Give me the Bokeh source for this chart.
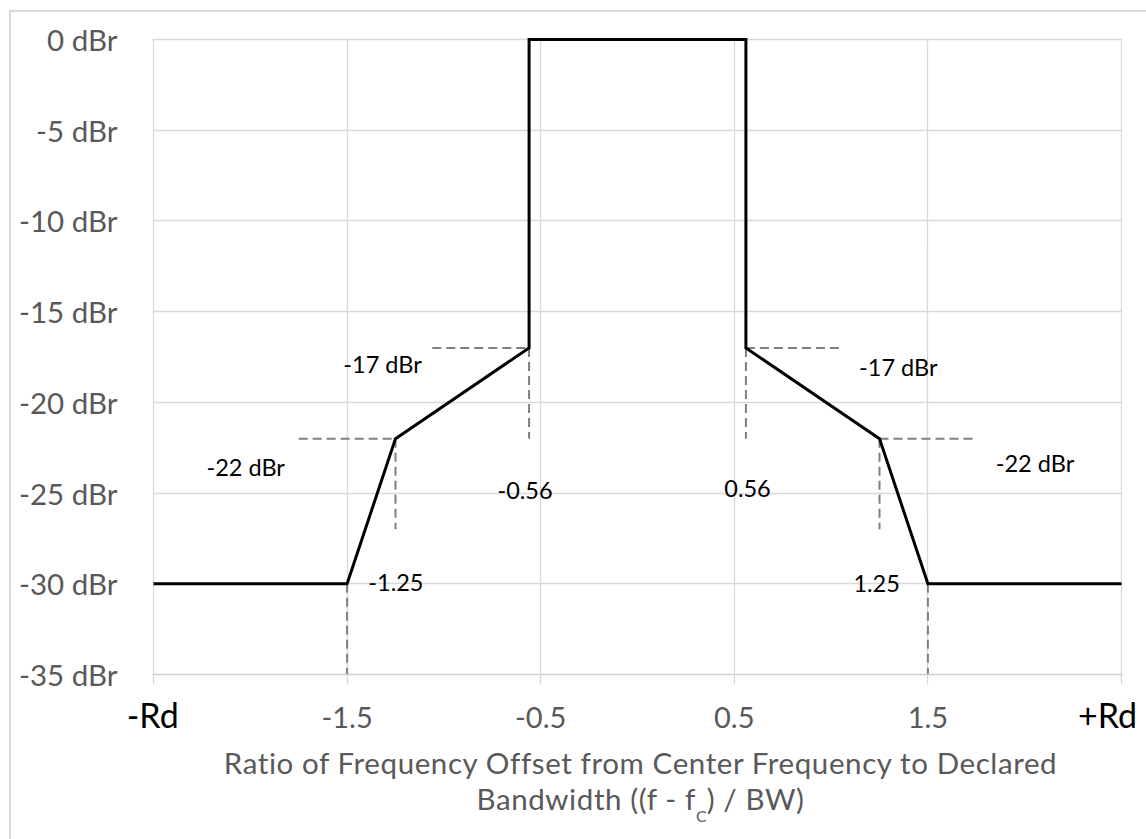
from bokeh.plotting import figure
from bokeh.models import Range1d, FixedTicker, LinearAxis, Div
from bokeh.layouts import column
from bokeh.core.properties import value
from bokeh.embed import file_html
from bokeh.resources import INLINE

# ---- data ----
mask_x = [-2.5, -1.5, -1.25, -0.56, -0.56, 0.56, 0.56, 1.25, 1.5, 2.5]
mask_y = [-30, -30, -22, -17, 0, 0, -17, -22, -30, -30]

# dashed guide segments (x0, y0) -> (x1, y1)
guide_x0 = [-1.06, -1.75, -0.56, -1.25, -1.5, 0.56, 1.25, 0.56, 1.25, 1.5]
guide_y0 = [-17, -22, -17, -22, -30, -17, -22, -17, -22, -30]
guide_x1 = [-0.56, -1.25, -0.56, -1.25, -1.5, 1.04, 1.74, 0.56, 1.25, 1.5]
guide_y1 = [-17, -22, -22, -27, -35, -17, -22, -22, -27, -35]

ann_text = ["-17 dBr", "-22 dBr", "-0.56", "-1.25", "0.56", "1.25", "-17 dBr", "-22 dBr"]
ann_x = [-1.317, -2.024, -0.581, -1.248, 0.568, 1.235, 1.347, 2.053]
ann_y = [-17.88, -23.56, -24.87, -29.94, -24.77, -29.98, -18.07, -23.37]

y_ticks = [0, -5, -10, -15, -20, -25, -30, -35]
y_tick_labels = ["0 dBr", "-5 dBr", "-10 dBr", "-15 dBr", "-20 dBr", "-25 dBr", "-30 dBr", "-35 dBr"]
x_ticks = [-2.5, -1.5, -0.5, 0.5, 1.5, 2.5]
x_tick_labels = ["", "-1.5", "-0.5", "0.5", "1.5", ""]
edge_x = [-2.504, 2.428]
edge_labels = ["-Rd", "+Rd"]

title_line1 = "Ratio of Frequency Offset from Center Frequency to Declared"
title_line2a = "Bandwidth ((f - f"
title_sub = "C"
title_line2b = ") / BW)"

FONT = "Lato"
GRAY = "#595959"

W = 1134
LEFT, TOP = 141, 22
FW, FH = 970, 640
BOTTOM = 66
H = TOP + FH + BOTTOM
PX_PER_X = 193.6
pad_x = (FW / PX_PER_X - 5) / 2

p = figure(width=W, height=H, output_backend="svg", toolbar_location=None,
           x_range=Range1d(-2.5 - pad_x, 2.5 + pad_x), y_range=Range1d(-35, 0.275),
           min_border_left=LEFT, min_border_right=W - LEFT - FW,
           min_border_top=TOP, min_border_bottom=BOTTOM,
           background_fill_color="white", border_fill_color="white")
p.outline_line_color = None

# grid
p.xgrid.ticker = FixedTicker(ticks=x_ticks)
p.ygrid.ticker = FixedTicker(ticks=y_ticks)
for g in (p.xgrid, p.ygrid):
    g.grid_line_color = "#d9d9d9"
    g.grid_line_width = 1.3
if "cross_bounds" in p.xgrid[0].properties():
    p.xgrid[0].cross_bounds = (-35, 0)

# x axis
xa = p.xaxis[0]
xa.ticker = FixedTicker(ticks=x_ticks)
xa.major_label_overrides = {t: l for t, l in zip(x_ticks, x_tick_labels)}
xa.axis_line_color = "#cfcfcf"
xa.axis_line_width = 1.5
xa.major_tick_line_color = "#d9d9d9"
xa.major_tick_line_width = 1.3
xa.major_tick_out = 10
xa.major_tick_in = 0
xa.minor_tick_line_color = None
xa.major_label_standoff = 22
xa.major_label_text_font = FONT
xa.major_label_text_font_size = "29px"
xa.major_label_text_color = GRAY
xa.major_label_text_line_height = 1.0

# -Rd / +Rd labels on a second bottom axis pulled up next to the tick labels
ea = LinearAxis(ticker=FixedTicker(ticks=edge_x),
                major_label_overrides={t: l for t, l in zip(edge_x, edge_labels)},
                axis_line_color=None, major_tick_line_color=None, minor_tick_line_color=None,
                major_tick_out=0, major_tick_in=0, major_label_standoff=-37,
                major_label_text_font=FONT, major_label_text_font_size="34px",
                major_label_text_color="black", major_label_text_line_height=1.0)
p.add_layout(ea, "below")

# y axis
ya = p.yaxis[0]
ya.ticker = FixedTicker(ticks=y_ticks)
ya.major_label_overrides = {t: l for t, l in zip(y_ticks, y_tick_labels)}
ya.axis_line_color = None
ya.major_tick_line_color = None
ya.minor_tick_line_color = None
ya.major_tick_out = 0
ya.major_label_standoff = 35
ya.major_label_text_font = FONT
ya.major_label_text_font_size = "29.5px"
ya.major_label_text_color = GRAY

# dashed guides
p.segment(x0=guide_x0, y0=guide_y0, x1=guide_x1, y1=guide_y1,
          line_color="#7f7f7f", line_width=2, line_dash="9 5")

# mask
p.line(mask_x, mask_y, line_color="black", line_width=3, line_join="miter")

# annotations
p.text(x=ann_x, y=ann_y, text=ann_text, text_font=value(FONT), text_font_size="23.5px",
       text_color="black", text_align="center", text_baseline="middle")

# axis title (HTML, for the subscript)
title_html = (
    f'<div style="width:{W}px; box-sizing:border-box; padding-left:115px; padding-top:0px; '
    f'text-align:center; font-family:{FONT}; font-size:29.5px; letter-spacing:0.6px; '
    f'line-height:35.6px; color:{GRAY}; white-space:nowrap;">{title_line1}<br>{title_line2a}'
    f'<span style="font-size:16px; letter-spacing:0; vertical-align:-12px; line-height:0;">'
    f'{title_sub}</span>{title_line2b}</div>'
)
title_div = Div(text=title_html, width=W, height=839 - 12 - H - 2)

layout = column(p, title_div, spacing=0,
                styles={"margin-left": "9px", "margin-top": "10px",
                        "border-left": "2px solid #d9d9d9", "border-top": "2px solid #d9d9d9"})

open("out.html", "w").write(file_html(layout, INLINE))
